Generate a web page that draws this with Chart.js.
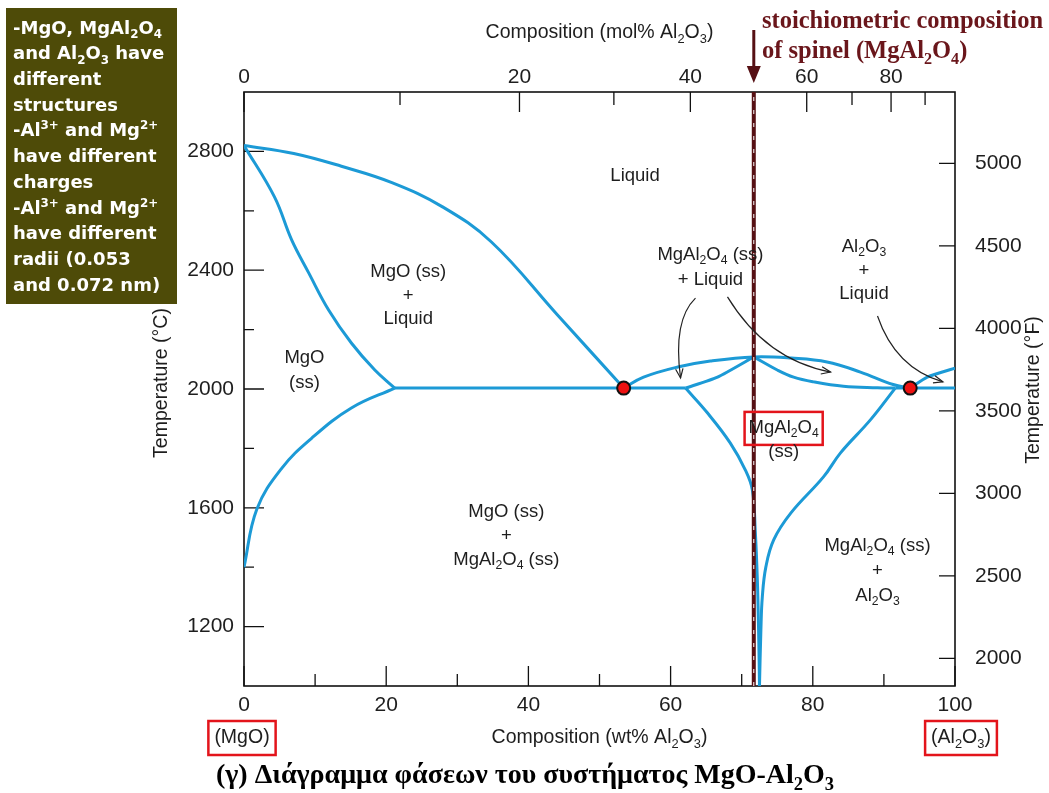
<!DOCTYPE html>
<html>
<head>
<meta charset="utf-8">
<script src="https://cdn.jsdelivr.net/npm/chart.js@4.4.1/dist/chart.umd.min.js"></script>
<style>
  html, body { margin: 0; padding: 0; background: #fff; }
  #wrap { position: relative; width: 1049px; height: 793px; }
  canvas { display: block; }
</style>
</head>
<body>
<div id="wrap"><canvas id="c" width="1049" height="793"></canvas></div>
<script>
// ---- axis ticks ----
const wtTicks = [0, 20, 40, 60, 80, 100];
const wtMinorTicks = [10, 30, 50, 70, 90];
const molTicks = [0, 20, 40, 60, 80];
const molMinorTicks = [10, 30, 50, 70, 90];
const celsiusTicks = [1200, 1600, 2000, 2400, 2800];
const celsiusMinorTicks = [1400, 1800, 2200, 2600];
const fahrenheitTicks = [2000, 2500, 3000, 3500, 4000, 4500, 5000];

// ---- phase boundaries: [wt% Al2O3, temperature °C] ----
const mgoLiquidus = [[0, 2820], [7.0, 2793], [13.7, 2750], [20.8, 2695], [27.8, 2615], [34.8, 2495], [44.0, 2252], [53.4, 2003]];
const mgoSolidus = [[0, 2820], [4.3, 2646], [6.7, 2502], [9.1, 2391], [11.9, 2266], [15.1, 2155], [18.4, 2064], [21.2, 2003]];
const mgoSolvus = [[0, 1400], [1.8, 1595], [5.3, 1733], [9.5, 1834], [15.1, 1936], [21.2, 2003]];
const eutecticLeft = [[21.2, 2003], [62.1, 2003]];
const eutecticRight = [[91.6, 2003], [100, 2003]];
const spinelLiquidus = [[53.4, 2003], [56.2, 2040], [61.0, 2074], [65.6, 2094], [71.7, 2108], [77.0, 2104], [82.0, 2091], [86.7, 2057], [91.3, 2015], [93.7, 2003]];
const spinelSolidusLeft = [[62.1, 2003], [66.6, 2040], [71.7, 2108]];
const spinelSolidusRight = [[71.7, 2108], [75.0, 2064], [77.3, 2040], [80.1, 2024], [84.3, 2009], [89.1, 2004], [91.6, 2003]];
const spinelSolvusLeft = [[62.1, 2003], [65.2, 1919], [68.4, 1818], [70.5, 1728], [71.5, 1660], [71.9, 1526], [72.2, 1358], [72.4, 1157], [72.5, 1000]];
const spinelSolvusRight = [[91.6, 2003], [88.1, 1896], [83.9, 1785], [81.5, 1704], [76.9, 1582], [74.5, 1492], [73.4, 1401], [72.9, 1300], [72.7, 1189], [72.5, 1000]];
const aluminaLiquidus = [[93.7, 2003], [96.1, 2040], [100, 2070]];
const eutectics = [[53.4, 2003], [93.7, 2003]];
const spinelWt = 71.7;

// molar masses for the mol% -> wt% top scale
const M_AL2O3 = 101.96, M_MGO = 40.30;
const molToWt = m => 100 * m * M_AL2O3 / (m * M_AL2O3 + (100 - m) * M_MGO);
const cToF = c => c * 9 / 5 + 32;

const SANS = "'Liberation Sans', Arial, sans-serif";
const WIDE = "'DejaVu Sans', Verdana, sans-serif";
const SERIF = "'Liberation Serif', 'Times New Roman', serif";
const BLUE = '#1c9ad6';
const MAROON = '#561014';
const TEXT = '#1e1e1e';

const pts = arr => arr.map(([x, y]) => ({ x, y }));
function curve(data, tension) {
  return { data: pts(data), showLine: true, borderColor: BLUE, borderWidth: 3, pointRadius: 0,
           tension: tension === undefined ? 0.4 : tension, fill: false, order: 2 };
}

// ---- text helpers: "_x" / "_{..}" subscript, "^{..}" superscript ----
function parseRich(s) {
  const parts = []; let buf = ''; let i = 0;
  while (i < s.length) {
    const ch = s[i];
    if (ch === '_' || ch === '^') {
      if (buf) { parts.push({ t: buf, k: 0 }); buf = ''; }
      let t;
      if (s[i + 1] === '{') { const j = s.indexOf('}', i); t = s.slice(i + 2, j); i = j + 1; }
      else { t = s[i + 1]; i += 2; }
      parts.push({ t, k: ch === '_' ? 1 : -1 });
    } else { buf += ch; i++; }
  }
  if (buf) parts.push({ t: buf, k: 0 });
  return parts;
}
function richWidth(ctx, s, o) {
  let w = 0;
  parseRich(s).forEach(p => {
    ctx.font = `${o.weight || 'normal'} ${p.k ? o.size * 0.66 : o.size}px ${o.family}`;
    w += ctx.measureText(p.t).width;
  });
  return w;
}
function drawRich(ctx, s, x, y, o) {
  const parts = parseRich(s);
  const w = richWidth(ctx, s, o);
  let cx = o.align === 'left' ? x : o.align === 'right' ? x - w : x - w / 2;
  ctx.save();
  ctx.fillStyle = o.color || TEXT;
  ctx.textBaseline = 'middle';
  ctx.textAlign = 'left';
  parts.forEach(p => {
    const sz = p.k ? o.size * 0.66 : o.size;
    ctx.font = `${o.weight || 'normal'} ${sz}px ${o.family}`;
    const dy = p.k === 1 ? o.size * 0.32 : p.k === -1 ? -o.size * 0.3 : 0;
    ctx.fillText(p.t, cx, y + dy);
    cx += ctx.measureText(p.t).width;
  });
  ctx.restore();
  return w;
}

// ---- region labels (anchored in data space: wt%, °C) ----
const regionLabels = [
  { x: 55.0, y: 2717, lines: ['Liquid'], gap: 0 },
  { x: 23.1, y: 2394, lines: ['MgO (ss)', '+', 'Liquid'], gap: 23.5 },
  { x: 8.5, y: 2104, lines: ['MgO', '(ss)'], gap: 25 },
  { x: 65.6, y: 2451, lines: ['MgAl_2O_4 (ss)', '+ Liquid'], gap: 25 },
  { x: 87.2, y: 2478, lines: ['Al_2O_3', '+', 'Liquid'], gap: 23.5 },
  { x: 36.9, y: 1586, lines: ['MgO (ss)', '+', 'MgAl_2O_4 (ss)'], gap: 24 },
  { x: 89.1, y: 1471, lines: ['MgAl_2O_4 (ss)', '+', 'Al_2O_3'], gap: 25 },
  { x: 75.9, y: 1869, lines: ['MgAl_2O_4', '(ss)'], gap: 24, boxed: true }
];
// pointer arrows: start, control, end (wt%, °C)
const pointers = [
  [[63.5, 2306], [60.3, 2232], [61.4, 2037]],
  [[68.0, 2310], [73.4, 2098], [82.5, 2057]],
  [[89.1, 2246], [91.6, 2071], [98.3, 2024]]
];
const infoLines = [
  '-MgO, MgAl_2O_4', 'and Al_2O_3 have', 'different', 'structures',
  '-Al^{3+} and Mg^{2+}', 'have different', 'charges',
  '-Al^{3+} and Mg^{2+}', 'have different', 'radii (0.053', 'and 0.072 nm)'
];

const decorations = {
  id: 'decorations',
  beforeDatasetsDraw(chart) {
    const { ctx, chartArea: a, scales } = chart;
    const xs = scales.x, ys = scales.y, yf = scales.y2;
    ctx.save();
    ctx.strokeStyle = '#111';
    ctx.lineWidth = 1.6;
    ctx.strokeRect(a.left, a.top, a.right - a.left, a.bottom - a.top);
    ctx.lineWidth = 1.3;
    ctx.beginPath();
    const hTick = (px, len) => { ctx.moveTo(px, a.bottom); ctx.lineTo(px, a.bottom - len); };
    wtTicks.forEach(v => hTick(xs.getPixelForValue(v), 20));
    wtMinorTicks.forEach(v => hTick(xs.getPixelForValue(v), 12));
    const tTick = (px, len) => { ctx.moveTo(px, a.top); ctx.lineTo(px, a.top + len); };
    molTicks.forEach(v => tTick(xs.getPixelForValue(molToWt(v)), 20));
    molMinorTicks.forEach(v => tTick(xs.getPixelForValue(molToWt(v)), 13));
    const lTick = (py, len) => { ctx.moveTo(a.left, py); ctx.lineTo(a.left + len, py); };
    celsiusTicks.forEach(v => lTick(ys.getPixelForValue(v), 20));
    celsiusMinorTicks.forEach(v => lTick(ys.getPixelForValue(v), 10));
    fahrenheitTicks.forEach(v => { const py = yf.getPixelForValue(v); ctx.moveTo(a.right, py); ctx.lineTo(a.right - 16, py); });
    ctx.stroke();
    ctx.restore();
  },
  afterDatasetsDraw(chart) {
    const { ctx, scales } = chart;
    const xs = scales.x, ys = scales.y;
    const X = v => xs.getPixelForValue(v), Y = v => ys.getPixelForValue(v);
    const lab = { size: 18.5, family: SANS, color: TEXT };

    regionLabels.forEach(r => {
      r.lines.forEach((t, i) => {
        const cx = X(r.x), cy = Y(r.y) + i * r.gap;
        const w = drawRich(ctx, t, cx, cy, lab);
        if (r.boxed && i === 0) {
          ctx.save();
          ctx.strokeStyle = '#e3141b'; ctx.lineWidth = 2.5;
          ctx.strokeRect(cx - w / 2 - 4, cy - 16, w + 8, 33);
          ctx.restore();
        }
      });
    });

    // pointer arrows
    ctx.save();
    ctx.strokeStyle = '#222'; ctx.lineWidth = 1.2;
    pointers.forEach(([s, c, e]) => {
      const sx = X(s[0]), sy = Y(s[1]), cx = X(c[0]), cy = Y(c[1]), ex = X(e[0]), ey = Y(e[1]);
      ctx.beginPath(); ctx.moveTo(sx, sy); ctx.quadraticCurveTo(cx, cy, ex, ey); ctx.stroke();
      const ang = Math.atan2(ey - cy, ex - cx);
      ctx.beginPath();
      ctx.moveTo(ex - 10 * Math.cos(ang - 0.38), ey - 10 * Math.sin(ang - 0.38));
      ctx.lineTo(ex, ey);
      ctx.lineTo(ex - 10 * Math.cos(ang + 0.38), ey - 10 * Math.sin(ang + 0.38));
      ctx.stroke();
    });
    ctx.restore();
  },
  afterDraw(chart) {
    const { ctx, chartArea: a, scales } = chart;
    const xs = scales.x;
    const cx = (a.left + a.right) / 2;
    const title = { size: 19.5, family: SANS, color: TEXT };

    // axis titles
    drawRich(ctx, 'Composition (mol% Al_2O_3)', cx, 33, title);
    drawRich(ctx, 'Composition (wt% Al_2O_3)', cx, 738, title);
    ctx.save(); ctx.translate(162, 383); ctx.rotate(-Math.PI / 2);
    drawRich(ctx, 'Temperature (°C)', 0, 0, title);
    ctx.restore();
    ctx.save(); ctx.translate(1034, 390); ctx.rotate(-Math.PI / 2);
    drawRich(ctx, 'Temperature (°F)', 0, 0, title);
    ctx.restore();

    // end-member labels in red boxes
    const endLabel = (t, px) => {
      const w = drawRich(ctx, t, px, 738, title);
      ctx.save(); ctx.strokeStyle = '#e3141b'; ctx.lineWidth = 2.5;
      ctx.strokeRect(px - w / 2 - 6, 721, w + 12, 34); ctx.restore();
    };
    endLabel('(MgO)', xs.getPixelForValue(0) - 2);
    endLabel('(Al_2O_3)', xs.getPixelForValue(100) + 6);

    // info panel
    ctx.save();
    ctx.fillStyle = '#4e4b08';
    ctx.fillRect(6, 8, 171, 296);
    ctx.restore();
    infoLines.forEach((t, i) => drawRich(ctx, t, 13, 29 + i * 25.7,
      { size: 18, family: WIDE, weight: 'bold', color: '#ffffff', align: 'left' }));

    // stoichiometric spinel marker
    const sx = xs.getPixelForValue(spinelWt);
    ctx.save();
    ctx.strokeStyle = MAROON; ctx.fillStyle = MAROON; ctx.lineWidth = 3;
    ctx.beginPath(); ctx.moveTo(sx, 30); ctx.lineTo(sx, 70); ctx.stroke();
    ctx.beginPath(); ctx.moveTo(sx - 7, 66); ctx.lineTo(sx + 7, 66); ctx.lineTo(sx, 83); ctx.closePath(); ctx.fill();
    ctx.restore();
    const note = { size: 24.5, family: SERIF, weight: 'bold', color: '#6a161b', align: 'left' };
    drawRich(ctx, 'stoichiometric composition', 762, 22, note);
    drawRich(ctx, 'of spinel (MgAl_2O_4)', 762, 52, note);

    // caption
    drawRich(ctx, '(γ) Διάγραμμα φάσεων του συστήματος MgO-Al_2O_3', 525, 776,
      { size: 28, family: SERIF, weight: 'bold', color: '#000' });
  }
};

const tickFont = { size: 21, family: SANS };
new Chart(document.getElementById('c'), {
  type: 'scatter',
  data: {
    datasets: [
      { data: pts(eutectics), showLine: false, pointRadius: 6.5, pointBackgroundColor: '#ee1111',
        pointBorderColor: '#111', pointBorderWidth: 2, order: -1 },
      { data: [{ x: spinelWt, y: 1000 }, { x: spinelWt, y: 3000 }], showLine: true, borderColor: '#ffffff',
        borderWidth: 1, borderDash: [4, 9], pointRadius: 0, order: 0 },
      { data: [{ x: spinelWt, y: 1000 }, { x: spinelWt, y: 3000 }], showLine: true, borderColor: MAROON,
        borderWidth: 4, pointRadius: 0, order: 1 },
      curve(mgoLiquidus), curve(mgoSolidus), curve(mgoSolvus),
      curve(eutecticLeft, 0), curve(eutecticRight, 0),
      curve(spinelLiquidus), curve(spinelSolidusLeft, 0.2), curve(spinelSolidusRight),
      curve(spinelSolvusLeft), curve(spinelSolvusRight), curve(aluminaLiquidus, 0.2)
    ]
  },
  options: {
    responsive: false, animation: false, devicePixelRatio: 1, events: [],
    layout: { padding: 0 },
    plugins: { legend: { display: false }, tooltip: { enabled: false } },
    scales: {
      x: {
        type: 'linear', position: 'bottom', min: 0, max: 100,
        afterBuildTicks: s => { s.ticks = wtTicks.map(v => ({ value: v })); },
        ticks: { callback: v => String(v), padding: 7, font: tickFont, color: TEXT, maxRotation: 0 },
        grid: { display: false, drawTicks: false }, border: { display: false },
        afterFit: s => { s.height = 793 - 686; }
      },
      x2: {
        type: 'linear', position: 'top', min: 0, max: 100,
        afterBuildTicks: s => { s.ticks = molTicks.map(m => ({ value: molToWt(m) })); },
        ticks: { callback: (v, i) => String(molTicks[i]), padding: 2, font: tickFont, color: TEXT, maxRotation: 0 },
        grid: { display: false, drawTicks: false }, border: { display: false },
        afterFit: s => { s.height = 92; }
      },
      y: {
        type: 'linear', position: 'left', min: 1000, max: 3000,
        afterBuildTicks: s => { s.ticks = celsiusTicks.map(v => ({ value: v })); },
        ticks: { callback: v => String(v), padding: 10, font: tickFont, color: TEXT },
        grid: { display: false, drawTicks: false }, border: { display: false },
        afterFit: s => { s.width = 244; }
      },
      y2: {
        type: 'linear', position: 'right', min: cToF(1000), max: cToF(3000),
        afterBuildTicks: s => { s.ticks = fahrenheitTicks.map(v => ({ value: v })); },
        ticks: { callback: v => String(v), padding: 20, font: tickFont, color: TEXT },
        grid: { display: false, drawTicks: false }, border: { display: false },
        afterFit: s => { s.width = 1049 - 955; }
      }
    }
  },
  plugins: [decorations]
});
</script>
</body>
</html>
